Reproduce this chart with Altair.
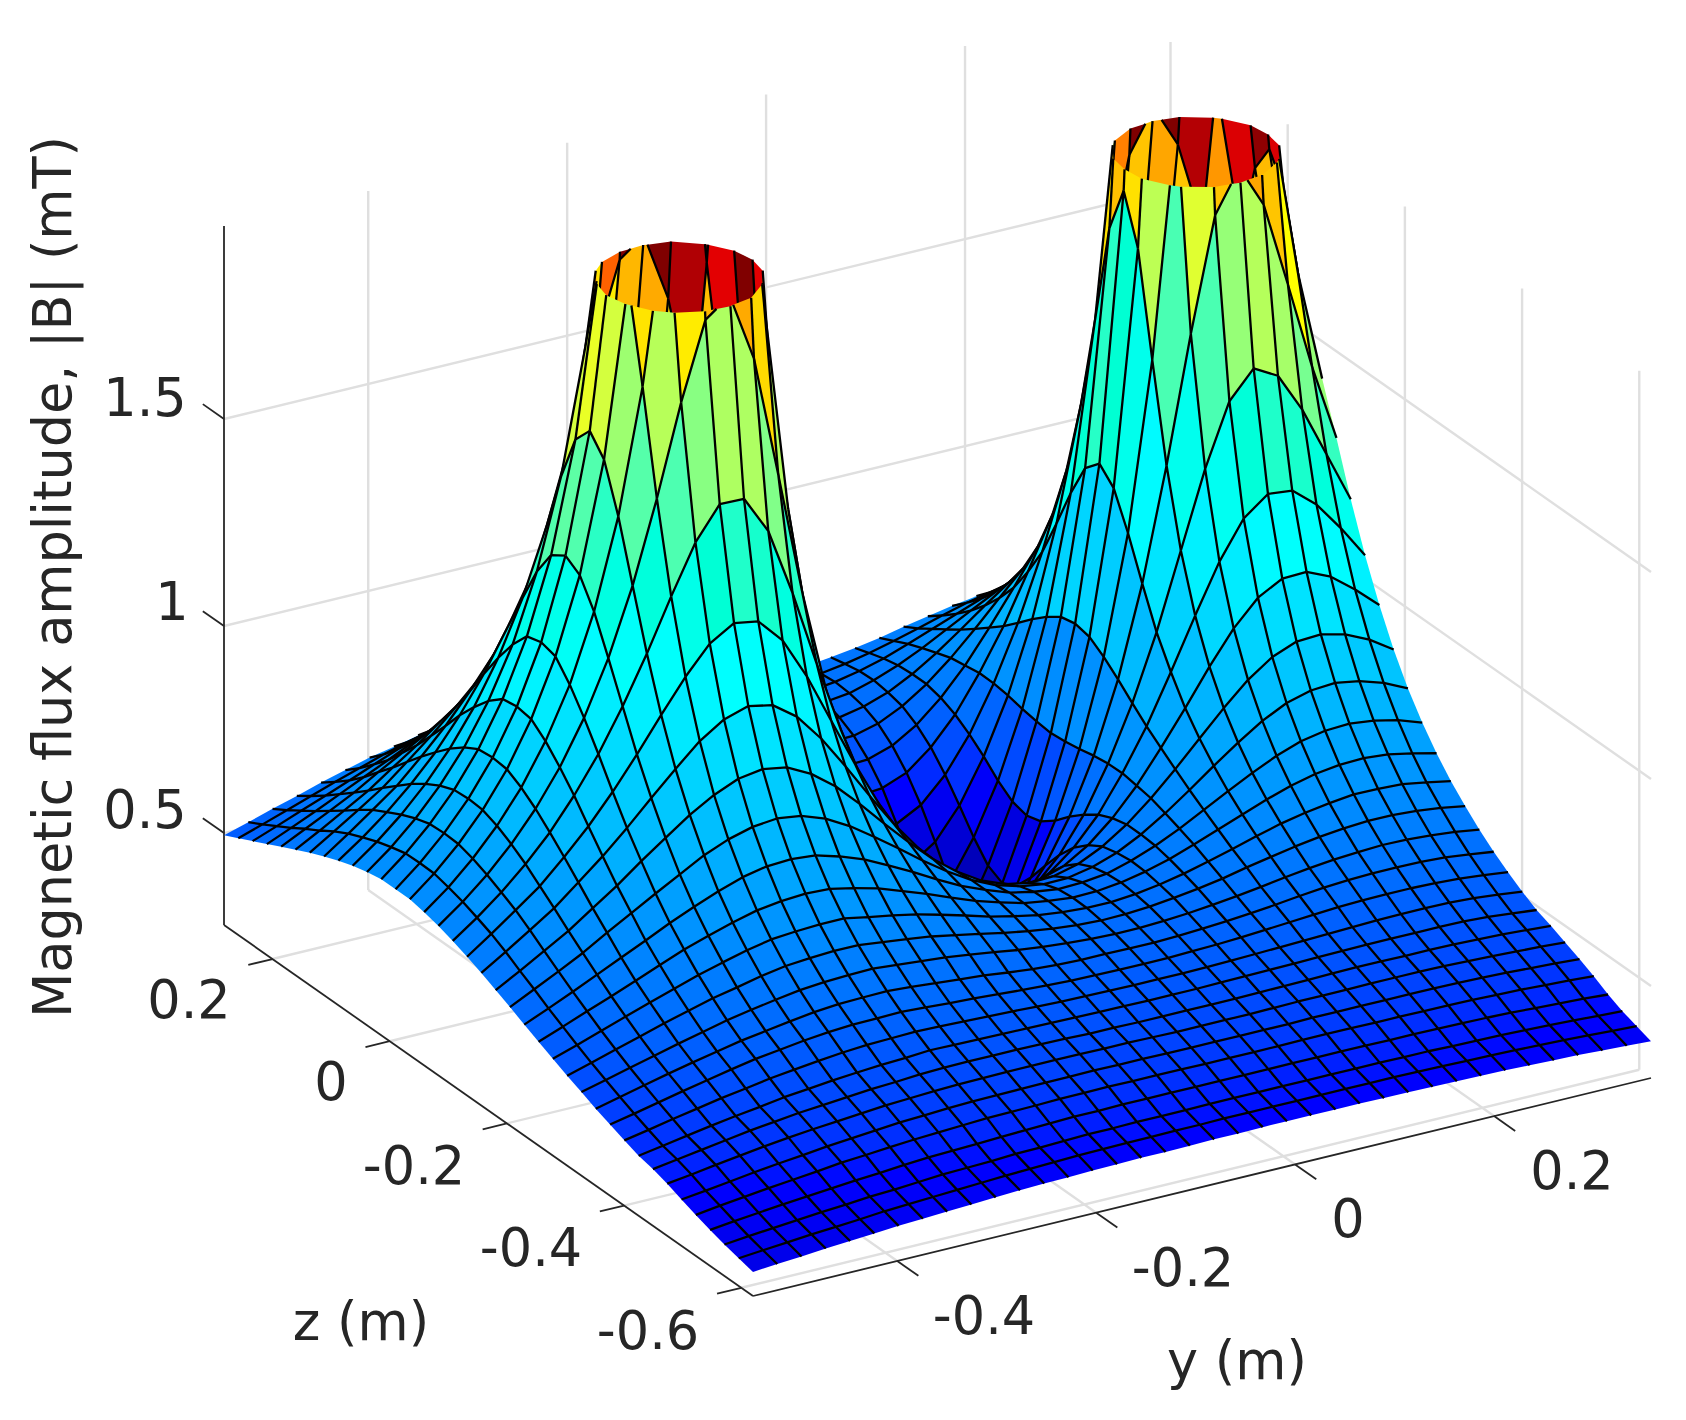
import altair as alt

# |B| heights (mT) estimated per grid row (low z first), one value per y grid line.
# N00..N12 are rows counted outward from the row through the two peaks.
R00=[.336,.341,.345,.350,.354,.358,.362,.365,.368,.371,.374,.377,.379,.380,.382,.383,.384,.384,.385,.386,.386,.387,.387,.387,.387,.387,.386,.386,.385,.384,.383,.382,.380,.378,.376,.373,.370,.367]
R01=[.345,.350,.355,.360,.364,.368,.373,.376,.379,.382,.385,.388,.390,.392,.394,.395,.396,.396,.397,.397,.398,.398,.398,.398,.398,.398,.398,.398,.397,.396,.395,.394,.392,.390,.388,.385,.382,.379]
R02=[.354,.360,.365,.370,.375,.379,.384,.387,.391,.395,.397,.399,.402,.403,.405,.407,.407,.408,.408,.408,.409,.409,.409,.409,.409,.409,.409,.409,.408,.408,.406,.405,.404,.402,.400,.397,.394,.391]
R03=[.365,.372,.378,.384,.389,.394,.399,.403,.408,.412,.414,.416,.419,.421,.423,.425,.425,.426,.426,.426,.426,.426,.426,.426,.426,.426,.426,.426,.425,.425,.424,.423,.422,.420,.417,.414,.411,.407]
R04=[.377,.385,.392,.399,.405,.411,.418,.422,.427,.431,.434,.437,.440,.441,.442,.444,.444,.445,.444,.444,.444,.443,.443,.443,.443,.444,.444,.444,.443,.443,.442,.442,.441,.439,.437,.434,.431,.427]
R05=[.390,.397,.405,.413,.420,.426,.433,.438,.443,.448,.451,.454,.456,.457,.458,.459,.459,.460,.459,.459,.458,.458,.458,.458,.458,.458,.459,.459,.459,.459,.459,.459,.458,.456,.454,.451,.448,.444]
R06=[.404,.412,.421,.429,.437,.444,.450,.455,.460,.465,.468,.471,.473,.474,.475,.475,.475,.475,.474,.474,.473,.472,.472,.472,.472,.473,.474,.474,.474,.475,.475,.475,.474,.472,.470,.467,.464,.460]
R07=[.415,.424,.433,.442,.451,.458,.465,.470,.475,.480,.483,.487,.489,.490,.490,.490,.489,.488,.486,.486,.485,.485,.485,.485,.485,.486,.487,.488,.489,.490,.490,.489,.489,.488,.486,.484,.480,.476]
R08=[.423,.433,.443,.453,.462,.470,.479,.485,.491,.496,.500,.503,.507,.506,.505,.504,.503,.502,.501,.500,.500,.499,.499,.499,.500,.501,.502,.503,.504,.505,.506,.506,.506,.506,.505,.502,.496,.490]
R09=[.436,.447,.459,.470,.481,.490,.500,.507,.514,.520,.524,.526,.528,.526,.524,.522,.520,.517,.515,.514,.513,.512,.512,.512,.513,.514,.516,.518,.520,.522,.524,.526,.527,.527,.526,.523,.517,.510]
R10=[.450,.462,.475,.488,.500,.512,.523,.531,.539,.545,.549,.550,.551,.548,.544,.541,.537,.533,.530,.527,.526,.525,.525,.525,.527,.529,.532,.536,.540,.544,.548,.550,.551,.551,.549,.546,.540,.533]
R11=[.464,.478,.492,.506,.519,.531,.543,.552,.561,.569,.574,.576,.577,.573,.568,.563,.558,.551,.545,.541,.539,.539,.538,.538,.540,.543,.547,.552,.558,.565,.571,.575,.577,.577,.576,.573,.566,.558]
R12=[.480,.495,.510,.525,.540,.554,.568,.579,.589,.598,.603,.606,.607,.602,.597,.592,.584,.576,.567,.560,.555,.551,.549,.549,.552,.556,.562,.569,.577,.586,.594,.600,.604,.607,.606,.602,.596,.587]
N12=[.495,.512,.530,.547,.565,.581,.597,.609,.622,.632,.637,.640,.640,.633,.626,.618,.607,.596,.584,.574,.566,.560,.557,.558,.562,.569,.577,.587,.600,.611,.622,.631,.637,.641,.641,.637,.630,.620]
N11=[.512,.531,.551,.571,.591,.610,.629,.645,.660,.672,.677,.680,.680,.669,.659,.647,.632,.616,.599,.586,.574,.567,.563,.563,.568,.577,.589,.604,.620,.637,.653,.665,.674,.681,.680,.677,.667,.656]
N10=[.529,.551,.574,.596,.619,.643,.666,.685,.703,.718,.726,.730,.727,.715,.700,.679,.658,.635,.613,.595,.579,.570,.564,.565,.572,.584,.600,.621,.643,.665,.687,.706,.720,.728,.730,.725,.713,.699]
N09=[.546,.571,.597,.624,.651,.678,.706,.731,.754,.774,.786,.789,.784,.767,.746,.717,.687,.655,.625,.601,.580,.568,.560,.562,.569,.586,.608,.635,.666,.697,.727,.754,.775,.786,.789,.782,.769,.749]
N08=[.564,.593,.622,.652,.687,.720,.753,.785,.817,.841,.857,.863,.855,.834,.802,.762,.720,.676,.636,.601,.574,.557,.548,.549,.561,.581,.611,.648,.690,.734,.776,.814,.843,.859,.863,.853,.835,.807]
N07=[.581,.613,.647,.681,.722,.762,.807,.849,.890,.924,.949,.958,.948,.918,.874,.817,.756,.697,.642,.597,.561,.538,.527,.529,.544,.572,.611,.660,.716,.776,.835,.889,.930,.953,.956,.942,.915,.877]
N06=[.598,.635,.673,.712,.760,.809,.863,.921,.977,1.030,1.068,1.086,1.074,1.032,.965,.884,.798,.716,.644,.584,.537,.507,.493,.496,.515,.551,.602,.666,.743,.825,.911,.989,1.049,1.081,1.083,1.057,1.012,.960]
N05=[.613,.654,.697,.741,.797,.857,.926,1.002,1.083,1.161,1.227,1.262,1.252,1.192,1.091,.970,.849,.738,.640,.563,.504,.465,.446,.451,.474,.521,.586,.672,.771,.888,1.010,1.126,1.216,1.261,1.255,1.207,1.136,1.056]
N04=[.627,.669,.716,.770,.832,.907,.993,1.094,1.207,1.331,1.447,1.525,1.524,1.432,1.268,1.082,.908,.757,.632,.532,.456,.407,.384,.389,.420,.479,.562,.671,.803,.960,1.143,1.326,1.475,1.54,1.508,1.412,1.29,1.167]
N03=[.639,.683,.734,.794,.865,.951,1.056,1.186,1.347,1.543,1.761,1.946,1.99,1.824,1.53,1.228,.975,.777,.619,.495,.401,.339,.308,.315,.355,.429,.533,.666,.836,1.053,1.324,1.628,1.90,2.00,1.897,1.69,1.476,1.291]
N02=[.648,.694,.749,.814,.892,.990,1.112,1.274,1.490,1.789,2.205,2.69,2.94,2.55,1.92,1.407,1.046,.791,.601,.455,.341,.261,.218,.227,.282,.376,.499,.658,.866,1.151,1.555,2.12,2.74,2.93,2.54,2.05,1.68,1.41]
N01=[.655,.703,.760,.828,.912,1.019,1.156,1.338,1.603,2.015,2.73,4.12,5.79,4.09,2.42,1.578,1.107,.803,.587,.423,.290,.187,.118,.135,.215,.332,.473,.652,.890,1.235,1.80,2.84,4.86,5.45,3.55,2.44,1.86,1.50]
N00=[.655,.704,.762,.831,.916,1.025,1.166,1.361,1.648,2.115,3.02,5.57,30.0,6.06,2.71,1.657,1.129,.806,.582,.411,.271,.150,.037,.073,.188,.314,.463,.648,.898,1.27,1.915,3.35,9.6,14.1,4.34,2.64,1.93,1.54]
ROWS=[R00,R01,R02,R03,R04,R05,R06,R07,R08,R09,R10,R11,R12,N12,N11,N10,N09,N08,N07,N06,N05,N04,N03,N02,N01,N00,N01,N02,N03,N04,N05,N06,N07,N08,N09,N10,N11,N12]

Y_MIN,Y_MAX=-.545,.3578
Z_MIN,Z_MAX=-.62,.2828
V_MIN,V_MAX=.278,1.966
Y_TICKS=[-.4,-.2,0,.2]
Z_TICKS=[-.6,-.4,-.2,0,.2]
V_TICKS=[.5,1,1.5]
N=len(ROWS)
YS=[Y_MIN+(Y_MAX-Y_MIN)*k/(N-1) for k in range(N)]
ZS=[Z_MIN+(Z_MAX-Z_MIN)*k/(N-1) for k in range(N)]
JET_DOMAIN=[.06,.39,1.07,1.69,2.35,2.68]
JET_RANGE=['#000080','#0000ff','#00ffff','#ffff00','#ff0000','#800000']
LABELS=[('0.5',145,812),('1',172,604),('1.5',145,400),
        ('0.2',189,1002),('0',331,1084),('-0.2',414,1168),('-0.4',531,1250),('-0.6',648,1333),
        ('-0.4',984,1318),('-0.2',1183,1270),('0',1348,1221),('0.2',1572,1173),
        ('z (m)',361,1324),('y (m)',1237,1363)]

def P(y,z,v):
    a=(y-Y_MIN)/(Y_MAX-Y_MIN); b=(Z_MAX-z)/(Z_MAX-Z_MIN); c=(v-V_MIN)/(V_MAX-V_MIN)
    return [round(224+898*a+529*b-8,2),round(925-218*a+371*b-699*c-8,2)]

def clip_poly(pts):
    for bound,sign in ((V_MAX,1),(V_MIN,-1)):
        out=[]
        for k,p in enumerate(pts):
            q=pts[(k+1)%len(pts)]
            ip=(p[2]-bound)*sign<=0; iq=(q[2]-bound)*sign<=0
            if ip: out.append(p)
            if ip!=iq:
                t=(bound-p[2])/(q[2]-p[2])
                out.append((p[0]+t*(q[0]-p[0]),p[1]+t*(q[1]-p[1]),bound))
        pts=out
        if not pts: return []
    return pts

def clip_seg(p,q):
    t0,t1=0.,1.
    dv=q[2]-p[2]
    if dv==0:
        return (p,q) if V_MIN<=p[2]<=V_MAX else None
    ta=(V_MIN-p[2])/dv; tb=(V_MAX-p[2])/dv
    t0=max(t0,min(ta,tb)); t1=min(t1,max(ta,tb))
    if t0>=t1: return None
    f=lambda t:(p[0]+t*(q[0]-p[0]),p[1]+t*(q[1]-p[1]),p[2]+t*(q[2]-p[2]))
    return f(t0),f(t1)

def V(i,j): return (YS[j],ZS[i],ROWS[i][j])

surface=[]
for i in range(N-2,-1,-1):
    for j in range(N-2,-1,-1):
        col=ROWS[i][j]
        poly=clip_poly([V(i,j),V(i,j+1),V(i+1,j+1),V(i+1,j)])
        if len(poly)>=3:
            ring=[P(*p) for p in poly]; ring.append(ring[0])
            surface.append({'type':'Feature','geometry':{'type':'Polygon','coordinates':[ring]},'v':col,'sc':'none'})
        segs=[]
        if i+1<N-1: segs.append((V(i+1,j),V(i+1,j+1)))
        if j+1<N-1: segs.append((V(i,j+1),V(i+1,j+1)))
        lines=[]
        for a,b in segs:
            s=clip_seg(a,b)
            if s: lines.append([P(*s[0]),P(*s[1])])
        if lines:
            surface.append({'type':'Feature','geometry':{'type':'MultiLineString','coordinates':lines},'v':col,'sc':'black'})

def line(a,b): return {'type':'Feature','geometry':{'type':'LineString','coordinates':[a,b]}}

grid=[]
for y in Y_TICKS:
    grid.append(line(P(y,Z_MIN,V_MIN),P(y,Z_MAX,V_MIN)))
    grid.append(line(P(y,Z_MAX,V_MIN),P(y,Z_MAX,V_MAX)))
for z in Z_TICKS:
    grid.append(line(P(Y_MIN,z,V_MIN),P(Y_MAX,z,V_MIN)))
    grid.append(line(P(Y_MAX,z,V_MIN),P(Y_MAX,z,V_MAX)))
for v in V_TICKS:
    grid.append(line(P(Y_MIN,Z_MAX,v),P(Y_MAX,Z_MAX,v)))
    grid.append(line(P(Y_MAX,Z_MAX,v),P(Y_MAX,Z_MIN,v)))

axes=[line(P(Y_MIN,Z_MAX,V_MIN),P(Y_MIN,Z_MAX,V_MAX)),
      line(P(Y_MIN,Z_MAX,V_MIN),P(Y_MIN,Z_MIN,V_MIN)),
      line(P(Y_MIN,Z_MIN,V_MIN),P(Y_MAX,Z_MIN,V_MIN))]
dz=(Z_MAX-Z_MIN)*.04; dy=(Y_MAX-Y_MIN)*.027
for y in Y_TICKS: axes.append(line(P(y,Z_MIN,V_MIN),P(y,Z_MIN-dz,V_MIN)))
for z in Z_TICKS: axes.append(line(P(Y_MIN,z,V_MIN),P(Y_MIN-dy,z,V_MIN)))
for v in V_TICKS: axes.append(line(P(Y_MIN,Z_MAX,v),P(Y_MIN,Z_MAX+dz,v)))

proj=alt.Projection(type='identity',scale=1,translate=[0,0])

grid_layer=alt.Chart(alt.Data(values=grid)).mark_geoshape(filled=False,stroke='#dfdfdf',strokeWidth=2.4).project(**proj.to_dict())
axis_layer=alt.Chart(alt.Data(values=axes)).mark_geoshape(filled=False,stroke='#262626',strokeWidth=1.8).project(**proj.to_dict())
surf_layer=alt.Chart(alt.Data(values=surface)).mark_geoshape(strokeWidth=2.3).encode(
    color=alt.Color('v:Q',legend=None,scale=alt.Scale(domain=JET_DOMAIN,range=JET_RANGE,clamp=True)),
    stroke=alt.Stroke('sc:N',scale=None,legend=None)).project(**proj.to_dict())
txt=[{'t':t,'lon':x-8,'lat':y-8} for t,x,y in LABELS]
text_layer=alt.Chart(alt.Data(values=txt)).mark_text(font='DejaVu Sans',fontSize=52.5,color='#262626',align='center',baseline='middle').encode(
    longitude='lon:Q',latitude='lat:Q',text='t:N').project(**proj.to_dict())
title_layer=alt.Chart(alt.Data(values=[{'t':'Magnetic flux amplitude, |B| (mT)','lon':47,'lat':569}])).mark_text(font='DejaVu Sans',fontSize=52.5,color='#262626',align='center',baseline='middle',angle=270).encode(
    longitude='lon:Q',latitude='lat:Q',text='t:N').project(**proj.to_dict())

chart=alt.layer(grid_layer,axis_layer,surf_layer,text_layer,title_layer).properties(
    width=1670,height=1400,padding=0,autosize=alt.AutoSizeParams(type='none'),background='white'
).configure_view(stroke=None)
chart.save("out.html",embed_options={"renderer":"svg","actions":False})
